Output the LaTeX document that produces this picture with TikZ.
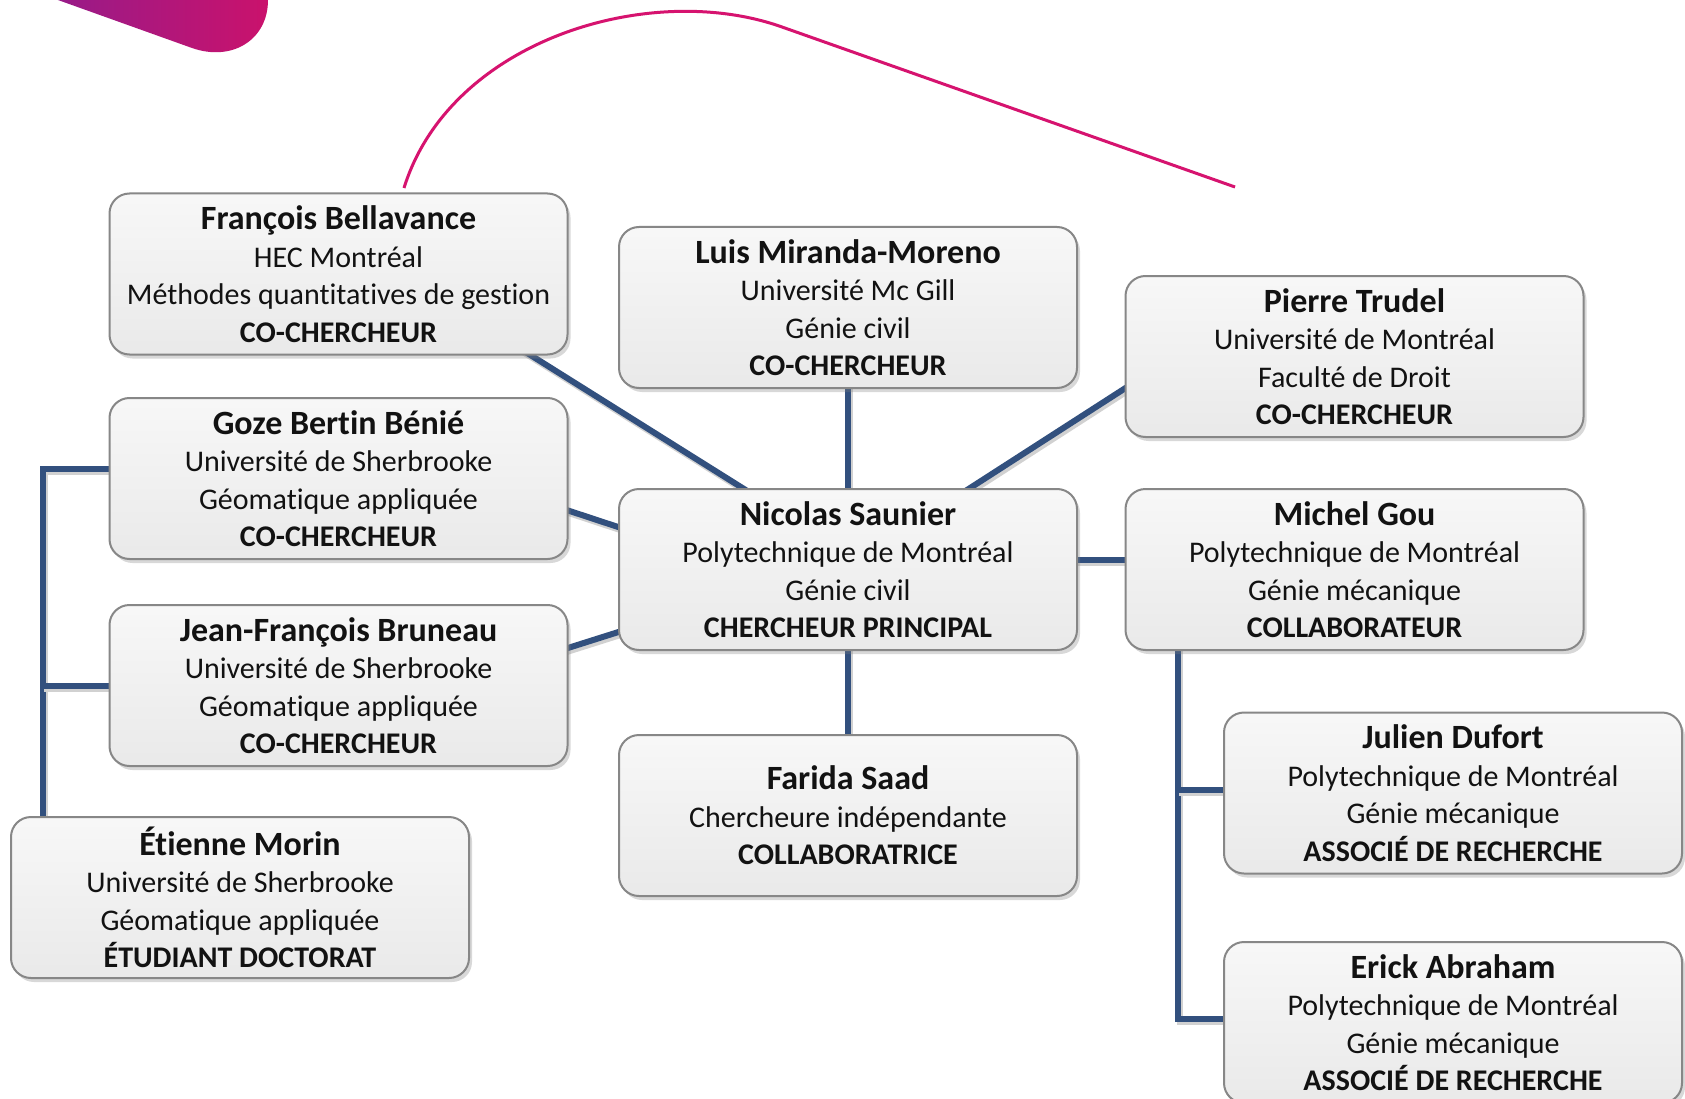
\documentclass[tikz,border=0pt]{standalone}
\usepackage{fontspec}
\setmainfont{Carlito}[Ligatures={NoCommon}]
\usetikzlibrary{calc,shadows}
\definecolor{conncol}{RGB}{50,80,126}
\definecolor{magline}{RGB}{214,19,111}
\definecolor{blobL}{RGB}{145,28,140}
\definecolor{blobR}{RGB}{202,18,108}
\definecolor{boxline}{RGB}{135,135,135}
\definecolor{txt}{RGB}{18,18,18}
\newcommand{\card}[4]{{\fontsize{34}{38}\selectfont\bfseries #1}\\#2\\#3\\\textbf{#4}}
\newcommand{\cardthree}[3]{{\fontsize{34}{38}\selectfont\bfseries #1}\\#2\\\textbf{#3}}
\pgfdeclarelayer{bglayer}
\pgfdeclarelayer{connlayer}
\pgfsetlayers{bglayer,connlayer,main}
\begin{document}
\begin{tikzpicture}[x=1pt,y=-1pt,
  person/.style={rectangle, rounded corners=20pt, draw=boxline, line width=2pt,
    top color=gray!6, bottom color=gray!17,
    minimum width=458pt, minimum height=161pt, inner sep=0pt,
    align=center, text=txt, font=\fontsize{30}{37.5}\selectfont,
    drop shadow={shadow xshift=3pt, shadow yshift=-4pt, opacity=0.3}},
  conn/.style={draw=conncol, line width=6pt,
    preaction={draw=black!18, line width=6pt, transform canvas={shift={(2pt,-3pt)}}}},
  magpath/.style={draw=magline, line width=3pt}
]
\useasboundingbox (0,0) rectangle (1685,1099);
\begin{pgfonlayer}{bglayer}
\fill[white] (0,0) rectangle (1685,1099);
\end{pgfonlayer}

% decorative blob and curve
\shade[left color=blobL, right color=blobR]
  (30,-10) -- (192,48) .. controls (232,62) and (268,40) .. (268,0) -- (268,-10) -- cycle;
\draw[magpath] (404,188) .. controls (450,40) and (650,-20) .. (782,27) -- (1235,187);

% nodes
\path
  (338.5,274)  node[person] (fb)  {\card{François Bellavance}{HEC Montréal}{Méthodes quantitatives de gestion}{CO-CHERCHEUR}}
  (848,307.5)  node[person] (lm)  {\card{Luis Miranda-Moreno}{Université Mc Gill}{Génie civil}{CO-CHERCHEUR}}
  (1354.5,356.5) node[person] (pt) {\card{Pierre Trudel}{Université de Montréal}{Faculté de Droit}{CO-CHERCHEUR}}
  (338.5,478.5) node[person] (gb) {\card{Goze Bertin Bénié}{Université de Sherbrooke}{Géomatique appliquée}{CO-CHERCHEUR}}
  (848,569.5)  node[person] (ns)  {\card{Nicolas Saunier}{Polytechnique de Montréal}{Génie civil}{CHERCHEUR PRINCIPAL}}
  (1354.5,569.5) node[person] (mg) {\card{Michel Gou}{Polytechnique de Montréal}{Génie mécanique}{COLLABORATEUR}}
  (338.5,685.5) node[person] (jfb) {\card{Jean-François Bruneau}{Université de Sherbrooke}{Géomatique appliquée}{CO-CHERCHEUR}}
  (848,815.5)  node[person] (fs)  {\cardthree{Farida Saad}{Chercheure indépendante}{COLLABORATRICE}}
  (240,897.5)  node[person] (em)  {\card{Étienne Morin}{Université de Sherbrooke}{Géomatique appliquée}{ÉTUDIANT DOCTORAT}}
  (1453,793)   node[person] (jd)  {\card{Julien Dufort}{Polytechnique de Montréal}{Génie mécanique}{ASSOCIÉ DE RECHERCHE}}
  (1453,1022.5) node[person] (ea) {\card{Erick Abraham}{Polytechnique de Montréal}{Génie mécanique}{ASSOCIÉ DE RECHERCHE}};

% connectors, on a layer below the boxes
\begin{pgfonlayer}{connlayer}
\draw[conn] ($(fb.south)+(181.5,-7)$) -- ($(ns.north)+(-88,11)$);
\draw[conn] ($(lm.south)+(0,-5)$) -- ($(ns.north)+(0,5)$);
\draw[conn] ($(pt.west)+(15,22.5)$) -- ($(ns.north)+(112,6.5)$);
\draw[conn] ($(gb.east)+(-17,26.5)$) -- ($(ns.west)+(21,-35.6)$);
\draw[conn] ($(jfb.east)+(-17,-32.3)$) -- ($(ns.west)+(21,56)$);
\draw[conn] ($(ns.east)+(-10,-10)$) -- ($(mg.west)+(10,-10)$);
\draw[conn] ($(ns.south)+(0,-5)$) -- ($(fs.north)+(0,5)$);
\draw[conn] ($(gb.west)+(10,-9.5)$) -| ($(em.north)+(-197,10)$);
\draw[conn] ($(jfb.west)+(10,0)$) -- ($(jfb.west)+(-67,0)$);
\draw[conn] ($(mg.south)+(-176.5,-10)$) |- ($(ea.west)+(10,-3.5)$);
\draw[conn] ($(jd.west)+(10,-3)$) -- ($(jd.west)+(-46,-3)$);
\end{pgfonlayer}
\end{tikzpicture}
\end{document}
